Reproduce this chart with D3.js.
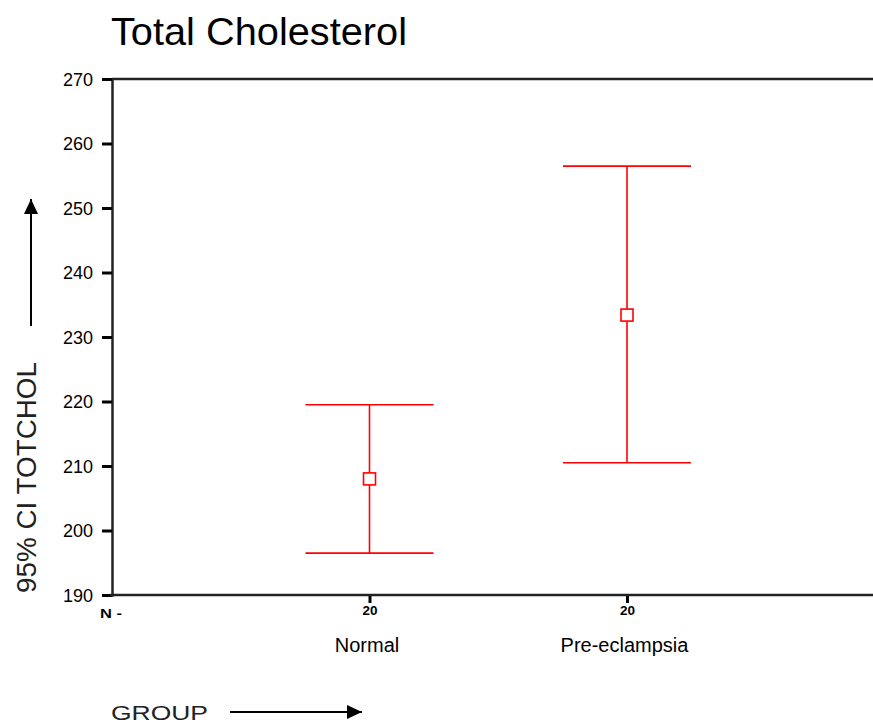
<!DOCTYPE html>
<html>
<head>
<meta charset="utf-8">
<script src="https://cdn.jsdelivr.net/npm/d3@7"></script>
<style>
  body { margin: 0; background: #fff; }
  text { font-family: Arial, "Liberation Sans", sans-serif; fill: #000; }
</style>
</head>
<body>
<svg id="chart" width="873" height="726"></svg>
<script>
// data
const groups = ['Normal', 'Pre-eclampsia'];
const counts = [20, 20];
const means = [208, 233.4];
const lower = [196.5, 210.5];
const upper = [219.5, 256.5];
const yTicks = [190, 200, 210, 220, 230, 240, 250, 260, 270];

const margin = { top: 79, left: 112, bottom: 131 };
const width = 873, height = 726;

const svg = d3.select('#chart');

const y = d3.scaleLinear().domain([190, 270]).range([height - margin.bottom, margin.top]);
const x = d3.scaleLinear().domain([0, 3]).range([margin.left, margin.left + 3 * 257.5]);

// title
svg.append('text')
  .attr('x', 111).attr('y', 45)
  .attr('textLength', 296).attr('lengthAdjust', 'spacingAndGlyphs')
  .style('font-size', '39px')
  .text('Total Cholesterol');

// top frame line runs to the right edge
svg.append('line')
  .attr('x1', x(0)).attr('x2', width)
  .attr('y1', y(270)).attr('y2', y(270))
  .attr('stroke', '#222').attr('stroke-width', 2.5);

// y axis
const yAxis = d3.axisLeft(y).tickValues(yTicks).tickSize(10).tickPadding(9);
const gy = svg.append('g')
  .attr('transform', 'translate(' + x(0) + ',0)')
  .call(yAxis);
gy.select('.domain').attr('stroke', '#222').attr('stroke-width', 2.5);
gy.selectAll('.tick line').attr('stroke', '#000').attr('stroke-width', 3);
gy.selectAll('.tick text').style('font-size', '18px').attr('dy', '0.35em');

// x axis with N counts
const xAxis = d3.axisBottom(x).tickValues([1, 2]).tickSize(8).tickPadding(3)
  .tickFormat((d, i) => counts[i]);
const gx = svg.append('g')
  .attr('transform', 'translate(0,' + y(190) + ')')
  .call(xAxis);
gx.select('.domain').remove();
gx.append('line')
  .attr('x1', x(0) - 2).attr('x2', width)
  .attr('stroke', '#222').attr('stroke-width', 2.5);
gx.selectAll('.tick line').attr('stroke', '#000').attr('stroke-width', 3);
gx.selectAll('.tick text')
  .attr('textLength', 15).attr('lengthAdjust', 'spacingAndGlyphs')
  .style('font-size', '13px').style('font-weight', 'bold');

svg.append('text')
  .attr('x', 100).attr('y', 618)
  .attr('textLength', 22).attr('lengthAdjust', 'spacingAndGlyphs')
  .style('font-size', '13px').style('font-weight', 'bold')
  .text('N -');

// category labels
svg.selectAll('.cat')
  .data(groups)
  .enter().append('text')
  .attr('class', 'cat')
  .attr('x', (d, i) => x(i + 1) - 2.5)
  .attr('y', 652)
  .attr('text-anchor', 'middle')
  .style('font-size', '20px')
  .text(d => d);

// error bars
const capHalf = 64;
const bars = svg.selectAll('.bar')
  .data(groups)
  .enter().append('g')
  .attr('class', 'bar');

bars.append('line')
  .attr('x1', (d, i) => x(i + 1)).attr('x2', (d, i) => x(i + 1))
  .attr('y1', (d, i) => y(upper[i])).attr('y2', (d, i) => y(lower[i]))
  .attr('stroke', '#ff0000').attr('stroke-width', 1.6);

bars.append('line')
  .attr('x1', (d, i) => x(i + 1) - capHalf).attr('x2', (d, i) => x(i + 1) + capHalf)
  .attr('y1', (d, i) => y(upper[i])).attr('y2', (d, i) => y(upper[i]))
  .attr('stroke', '#ff0000').attr('stroke-width', 1.6);

bars.append('line')
  .attr('x1', (d, i) => x(i + 1) - capHalf).attr('x2', (d, i) => x(i + 1) + capHalf)
  .attr('y1', (d, i) => y(lower[i])).attr('y2', (d, i) => y(lower[i]))
  .attr('stroke', '#ff0000').attr('stroke-width', 1.6);

bars.append('rect')
  .attr('x', (d, i) => x(i + 1) - 6).attr('y', (d, i) => y(means[i]) - 6)
  .attr('width', 12).attr('height', 12)
  .attr('fill', '#fff')
  .attr('stroke', '#ff0000').attr('stroke-width', 1.6);

// arrow marker
svg.append('defs').append('marker')
  .attr('id', 'arrow')
  .attr('viewBox', '0 0 15 14')
  .attr('refX', 15).attr('refY', 7)
  .attr('markerWidth', 15).attr('markerHeight', 14)
  .attr('markerUnits', 'userSpaceOnUse')
  .attr('orient', 'auto')
  .append('path').attr('d', 'M0,0L15,7L0,14Z').attr('fill', '#000');

// y label with arrow
svg.append('text')
  .attr('transform', 'translate(36,593) rotate(-90)')
  .attr('textLength', 231).attr('lengthAdjust', 'spacingAndGlyphs')
  .style('font-size', '27px')
  .style('fill', '#222')
  .text('95% CI TOTCHOL');
svg.append('line')
  .attr('x1', 31).attr('x2', 31).attr('y1', 326).attr('y2', 199)
  .attr('stroke', '#000').attr('stroke-width', 2)
  .attr('marker-end', 'url(#arrow)');

// x label with arrow
svg.append('text')
  .attr('x', 111).attr('y', 720)
  .attr('textLength', 97).attr('lengthAdjust', 'spacingAndGlyphs')
  .style('font-size', '21px')
  .style('fill', '#222')
  .text('GROUP');
svg.append('line')
  .attr('x1', 230).attr('x2', 362).attr('y1', 712).attr('y2', 712)
  .attr('stroke', '#000').attr('stroke-width', 2)
  .attr('marker-end', 'url(#arrow)');
</script>
</body>
</html>
